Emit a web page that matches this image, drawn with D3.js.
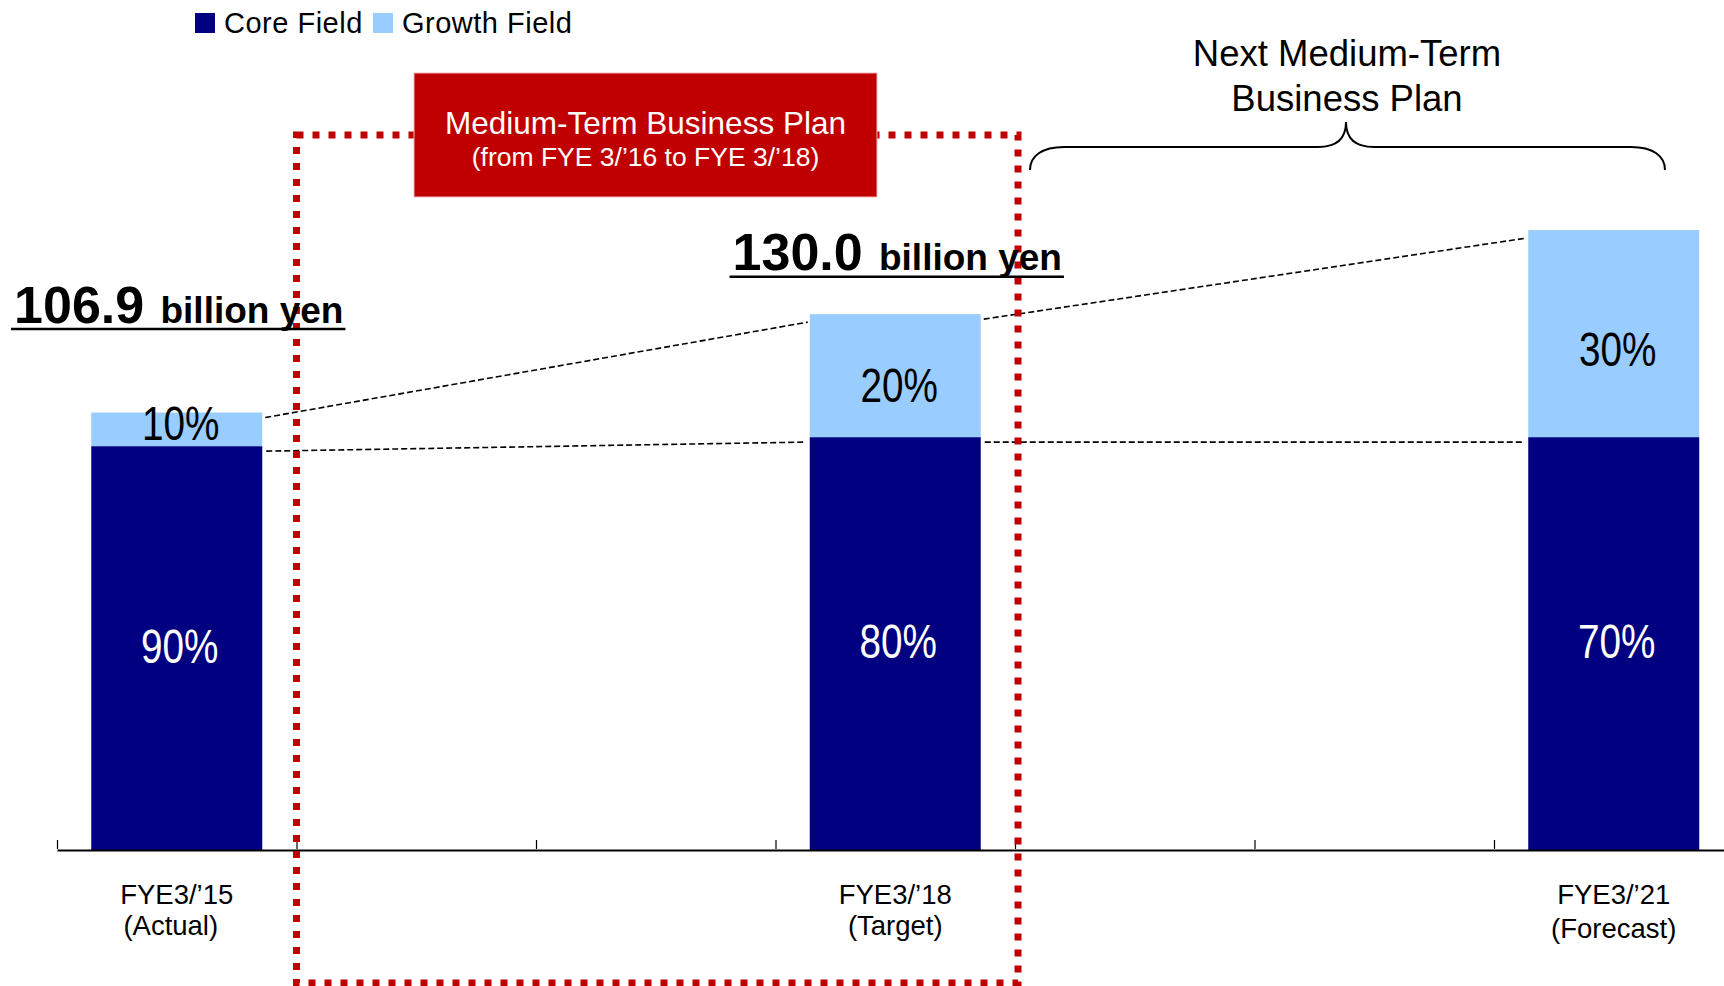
<!DOCTYPE html>
<html>
<head>
<meta charset="utf-8">
<script src="https://cdn.jsdelivr.net/npm/d3@7"></script>
<style>
  html, body { margin: 0; padding: 0; background: #ffffff; }
  svg { display: block; }
  text { font-family: "Liberation Sans", Arial, Helvetica, sans-serif; }
</style>
</head>
<body>
<svg id="chart" width="1724" height="986"></svg>
<script>
// ---------------- data ----------------
const categories   = ["FYE3/’15", "FYE3/’16", "FYE3/’17", "FYE3/’18", "FYE3/’19", "FYE3/’20", "FYE3/’21"];
const tickLabels   = ["FYE3/’15", "", "", "FYE3/’18", "", "", "FYE3/’21"];
const tickNotes    = ["(Actual)", "", "", "(Target)", "", "", "(Forecast)"];
const coreValues   = [98.5, null, null, 100.7, null, null, 100.7];
const growthValues = [8.2, null, null, 30.0, null, null, 50.5];
const corePct      = ["90%", null, null, "80%", null, null, "70%"];
const growthPct    = ["10%", null, null, "20%", null, null, "30%"];
const totalLabels  = ["106.9", null, null, "130.0", null, null, null];
const seriesNames  = ["Core Field", "Growth Field"];
const planTitle    = ["Medium-Term Business Plan", "(from FYE 3/’16 to FYE 3/’18)"];
const nextPlanTitle = ["Next Medium-Term", "Business Plan"];

// ---------------- styles ----------------
const COLORS = { core: "#000080", growth: "#99CCFF", red: "#C00000" };

const svg = d3.select("#chart");
svg.append("rect").attr("width", 1724).attr("height", 986).attr("fill", "#fff");

// ---------------- scales ----------------
const x0 = 57, step = 239.5;
const x = d3.scaleBand().domain(categories)
  .range([x0, x0 + step * categories.length])
  .paddingInner(0.286).paddingOuter(0.143);
const xb = d3.scaleLinear().domain([0, categories.length]).range([x0, x0 + step * categories.length]);
const y = d3.scaleLinear().domain([0, 200]).range([850, 30]);

const rows = categories.map((c, i) => ({
  c, i, core: coreValues[i], growth: growthValues[i],
  corePct: corePct[i], growthPct: growthPct[i], total: totalLabels[i]
})).filter(d => d.core != null);

// ---------------- connector dashed lines ----------------
const gConn = svg.append("g");
for (let k = 0; k < rows.length - 1; k++) {
  const a = rows[k], b = rows[k + 1];
  gConn.append("line")
    .attr("x1", x(a.c) + x.bandwidth() + 3).attr("y1", y(a.core + a.growth) + 5)
    .attr("x2", x(b.c) - 2).attr("y2", y(b.core + b.growth) + 8)
    .attr("stroke", "#000").attr("stroke-width", 1.6).attr("stroke-dasharray", "6 3");
  gConn.append("line")
    .attr("x1", x(a.c) + x.bandwidth() + 4).attr("y1", y(a.core) + 5)
    .attr("x2", x(b.c) - 5).attr("y2", y(b.core) + 5)
    .attr("stroke", "#000").attr("stroke-width", 1.6).attr("stroke-dasharray", "6 3");
}

// ---------------- bars ----------------
const gBars = svg.append("g");
gBars.selectAll("rect.core").data(rows).join("rect").attr("class", "core")
  .attr("x", d => x(d.c)).attr("width", x.bandwidth())
  .attr("y", d => y(d.core)).attr("height", d => y(0) - y(d.core))
  .attr("fill", COLORS.core);
gBars.selectAll("rect.growth").data(rows).join("rect").attr("class", "growth")
  .attr("x", d => x(d.c)).attr("width", x.bandwidth())
  .attr("y", d => y(d.core + d.growth)).attr("height", d => y(d.core) - y(d.core + d.growth))
  .attr("fill", COLORS.growth);

const pctSize = 49, capH = pctSize * 0.716;
gBars.selectAll("text.corePct").data(rows).join("text").attr("class", "corePct")
  .attr("transform", d => {
    const cy = (y(d.core) + y(0)) / 2 - 3;
    return `translate(${x(d.c) + x.bandwidth() / 2 + 3},${cy + capH / 2}) scale(0.79,1)`;
  })
  .attr("text-anchor", "middle").attr("font-size", pctSize).attr("fill", "#fff")
  .text(d => d.corePct);
gBars.selectAll("text.growthPct").data(rows).join("text").attr("class", "growthPct")
  .attr("transform", d => {
    const bottom = y(d.core), h = y(d.core) - y(d.core + d.growth);
    const cy = bottom - Math.max(h * 0.43, 23.5);
    return `translate(${x(d.c) + x.bandwidth() / 2 + 4},${cy + capH / 2}) scale(0.79,1)`;
  })
  .attr("text-anchor", "middle").attr("font-size", pctSize).attr("fill", "#000")
  .text(d => d.growthPct);

// ---------------- axis ----------------
const axis = d3.axisTop(xb).tickValues(d3.range(0, categories.length))
  .tickSize(9).tickSizeOuter(0).tickFormat("");
const gAxis = svg.append("g").attr("transform", `translate(0,${y(0)})`).call(axis);
gAxis.select(".domain").attr("stroke", "#000").attr("stroke-width", 2.2);
gAxis.selectAll(".tick line").attr("stroke", "#000").attr("stroke-width", 1.2).attr("transform", "translate(0,-1)");

const gLab = svg.append("g").attr("font-size", 27.5).attr("fill", "#000").attr("text-anchor", "middle");
categories.forEach((c, i) => {
  if (!tickLabels[i]) return;
  const cx = x(c) + x.bandwidth() / 2;
  gLab.append("text").attr("x", cx).attr("y", 904).text(tickLabels[i]);
  gLab.append("text").attr("x", cx - (i === 0 ? 6 : 0)).attr("y", i === categories.length - 1 ? 938 : 935).text(tickNotes[i]);
});

// ---------------- medium-term plan dotted box ----------------
const boxL = xb(1), boxR = xb(4) + 3, boxT = 135, boxB = 983;
svg.append("rect").attr("x", boxL).attr("y", boxT)
  .attr("width", boxR - boxL).attr("height", boxB - boxT)
  .attr("fill", "none").attr("stroke", COLORS.red).attr("stroke-width", 7)
  .attr("stroke-dasharray", "7 9");

const hb = { x: 414, y: 73, w: 463, h: 124 };
svg.append("rect").attr("x", hb.x).attr("y", hb.y).attr("width", hb.w).attr("height", hb.h)
  .attr("fill", COLORS.red).attr("stroke", "#F2B8B8").attr("stroke-width", 1);
svg.append("text").attr("x", hb.x + hb.w / 2).attr("y", 134).attr("text-anchor", "middle")
  .attr("font-size", 31.5).attr("fill", "#fff").text(planTitle[0]);
svg.append("text").attr("x", hb.x + hb.w / 2).attr("y", 166).attr("text-anchor", "middle")
  .attr("font-size", 26.5).attr("fill", "#fff").text(planTitle[1]);

// ---------------- next plan brace ----------------
svg.append("path")
  .attr("d", "M1030,170 C1030,156 1042,147 1064,147 L1318,147 C1338,147 1346,138 1346,122 " +
             "C1346,138 1354,147 1374,147 L1631,147 C1653,147 1665,156 1665,170")
  .attr("fill", "none").attr("stroke", "#000").attr("stroke-width", 2);
svg.append("text").attr("x", 1347).attr("y", 66).attr("text-anchor", "middle")
  .attr("font-size", 36.5).attr("fill", "#000").text(nextPlanTitle[0]);
svg.append("text").attr("x", 1347).attr("y", 111).attr("text-anchor", "middle")
  .attr("font-size", 36.5).attr("fill", "#000").text(nextPlanTitle[1]);

// ---------------- total labels ----------------
const totalLift = [90, null, null, 44];
rows.filter(d => d.total).forEach(d => {
  const cx = x(d.c) + x.bandwidth() / 2 + 2;
  const base = y(d.core + d.growth) - totalLift[d.i];
  const t = svg.append("text").attr("y", base).attr("font-weight", "bold").attr("fill", "#000");
  t.append("tspan").attr("font-size", 52).text(d.total);
  t.append("tspan").attr("font-size", 37).attr("dx", 6).text(" billion yen");
  const w = t.node().getComputedTextLength() + 6;
  t.attr("x", cx - w / 2);
  svg.append("line").attr("x1", cx - w / 2 - 3).attr("x2", cx + w / 2 + 2)
    .attr("y1", base + 6.5).attr("y2", base + 6.5)
    .attr("stroke", "#000").attr("stroke-width", 2.5);
});

// ---------------- legend ----------------
const gLeg = svg.append("g").attr("font-size", 29).attr("letter-spacing", 0.5);
const legX = [195, 373];
[COLORS.core, COLORS.growth].forEach((col, k) => {
  gLeg.append("rect").attr("x", legX[k]).attr("y", 13).attr("width", 20).attr("height", 20).attr("fill", col);
  gLeg.append("text").attr("x", legX[k] + 29).attr("y", 33).attr("fill", "#000").text(seriesNames[k]);
});
</script>
</body>
</html>
